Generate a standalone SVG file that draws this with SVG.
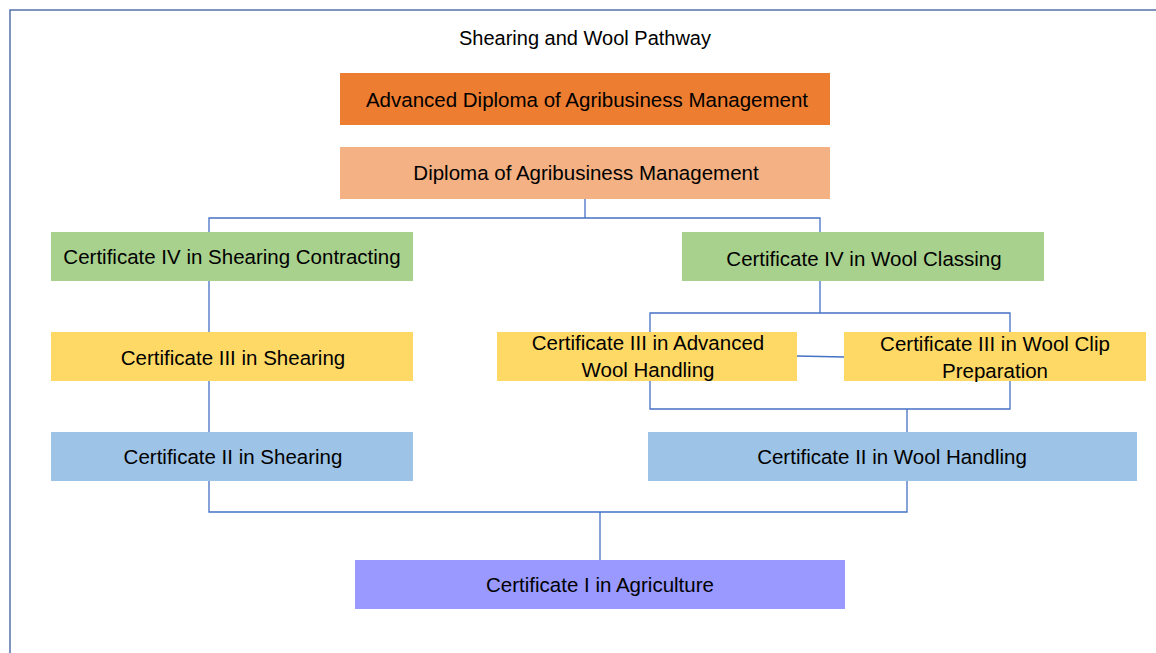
<svg xmlns="http://www.w3.org/2000/svg" width="1156" height="653" viewBox="0 0 1156 653">
<style>
text{font-family:"Liberation Sans",Arial,sans-serif;font-size:20.5px;fill:#000;text-anchor:middle;dominant-baseline:central}
.c{fill:none;stroke:#4472C4;stroke-width:1.3}
</style>
<rect width="1156" height="653" fill="#fff"/>
<path d="M1156 10H10V653" fill="none" stroke="#5470A8" stroke-width="1.5"/>
<text x="585" y="38" style="font-size:20px">Shearing and Wool Pathway</text>
<g id="connectors">
<path class="c" d="M585 199V218M209 232V218H820V232"/>
<path class="c" d="M209 281V332M209 381V432"/>
<path class="c" d="M820 281V313M650 332V313H1010V332"/>
<path class="c" d="M797 356L844 357"/>
<path class="c" d="M650 381V409H1010V381M907 409V432"/>
<path class="c" d="M209 481V512H907V481M600 512V560"/>
</g>
<g id="adv"><rect x="340" y="73" width="490" height="52" fill="#ED7D31"/><text x="587" y="99">Advanced Diploma of Agribusiness Management</text></g>
<g id="dip"><rect x="340" y="147" width="490" height="52" fill="#F4B183"/><text x="586" y="172">Diploma of Agribusiness Management</text></g>
<g id="c4sc"><rect x="51" y="232" width="362" height="49" fill="#A9D18E"/><text x="232" y="256">Certificate IV in Shearing Contracting</text></g>
<g id="c4wc"><rect x="682" y="232" width="362" height="49" fill="#A9D18E"/><text x="864" y="258">Certificate IV in Wool Classing</text></g>
<g id="c3s"><rect x="51" y="332" width="362" height="49" fill="#FFD966"/><text x="233" y="357">Certificate III in Shearing</text></g>
<g id="c3awh"><rect x="497" y="332" width="300" height="49" fill="#FFD966"/><text x="648" y="342">Certificate III in Advanced</text><text x="648" y="369">Wool Handling</text></g>
<g id="c3wcp"><rect x="844" y="332" width="302" height="49" fill="#FFD966"/><text x="995" y="343">Certificate III in Wool Clip</text><text x="995" y="370">Preparation</text></g>
<g id="c2s"><rect x="51" y="432" width="362" height="49" fill="#9DC3E6"/><text x="233" y="456">Certificate II in Shearing</text></g>
<g id="c2wh"><rect x="648" y="432" width="489" height="49" fill="#9DC3E6"/><text x="892" y="456">Certificate II in Wool Handling</text></g>
<g id="c1"><rect x="355" y="560" width="490" height="49" fill="#9999FF"/><text x="600" y="584">Certificate I in Agriculture</text></g>
</svg>
